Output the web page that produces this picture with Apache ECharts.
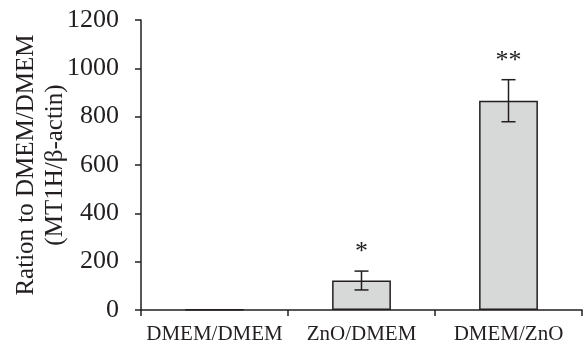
<!DOCTYPE html>
<html>
<head>
<meta charset="UTF-8">
<script src="https://cdn.jsdelivr.net/npm/echarts@6/dist/echarts.min.js"></script>
<style>body{margin:0;background:#fff}</style>
</head>
<body>
<div id="main" style="width:587px;height:345px;"></div>
<script>
var categories = ['DMEM/DMEM', 'ZnO/DMEM', 'DMEM/ZnO'];
var values = [2, 122, 866];
var errors = [0, 39, 87];
var marks = ['', '*', '**'];

var chart = echarts.init(document.getElementById('main'));
var font = 'Liberation Serif';
var ink = '#231f20';

chart.setOption({
    animation: false,
    grid: {left: 141, right: 5, top: 20, bottom: 35, outerBoundsMode: 'none'},
    xAxis: {
        type: 'category',
        data: categories,
        axisLine: {lineStyle: {color: ink, width: 1.5}},
        axisTick: {show: true, length: 6, lineStyle: {color: ink, width: 1.5}},
        axisLabel: {color: ink, fontFamily: font, fontSize: 21, margin: 14, interval: 0}
    },
    yAxis: {
        type: 'value',
        min: 0, max: 1200, interval: 200,
        name: 'Ration to DMEM/DMEM\n(MT1H/β-actin)',
        nameLocation: 'middle',
        nameGap: 71,
        nameMoveOverlap: false,
        nameTextStyle: {color: ink, fontFamily: font, fontSize: 25, lineHeight: 29},
        axisLine: {show: true, lineStyle: {color: ink, width: 1.5}},
        axisTick: {show: true, length: 6, lineStyle: {color: ink, width: 1.5}},
        axisLabel: {color: ink, fontFamily: font, fontSize: 26, margin: 22,
            formatter: function (v) { return String(v); }},
        splitLine: {show: false}
    },
    series: [{
        type: 'bar',
        data: values,
        barWidth: '40%',
        itemStyle: {color: '#d7d8d8', borderColor: ink, borderWidth: 1.5}
    }, {
        type: 'custom',
        data: values.map(function (v, i) { return [i, v, errors[i]]; }),
        renderItem: function (params, api) {
            var i = api.value(0), v = api.value(1), e = api.value(2);
            var hi = api.coord([i, v + e]);
            var lo = api.coord([i, v - e]);
            var cap = 7;
            var children = [];
            if (e > 0) {
                var st = {stroke: ink, lineWidth: 1.5};
                children.push(
                    {type: 'line', shape: {x1: hi[0], y1: hi[1], x2: lo[0], y2: lo[1]}, style: st},
                    {type: 'line', shape: {x1: hi[0] - cap, y1: hi[1], x2: hi[0] + cap, y2: hi[1]}, style: st},
                    {type: 'line', shape: {x1: lo[0] - cap, y1: lo[1], x2: lo[0] + cap, y2: lo[1]}, style: st}
                );
            }
            var m = marks[params.dataIndex];
            if (m) {
                children.push({type: 'text', style: {
                    text: m, x: hi[0], y: hi[1] - 6, align: 'center', verticalAlign: 'bottom',
                    fontFamily: font, fontSize: 26, fill: ink
                }});
            }
            return {type: 'group', children: children};
        },
        z: 5
    }]
});
</script>
</body>
</html>
